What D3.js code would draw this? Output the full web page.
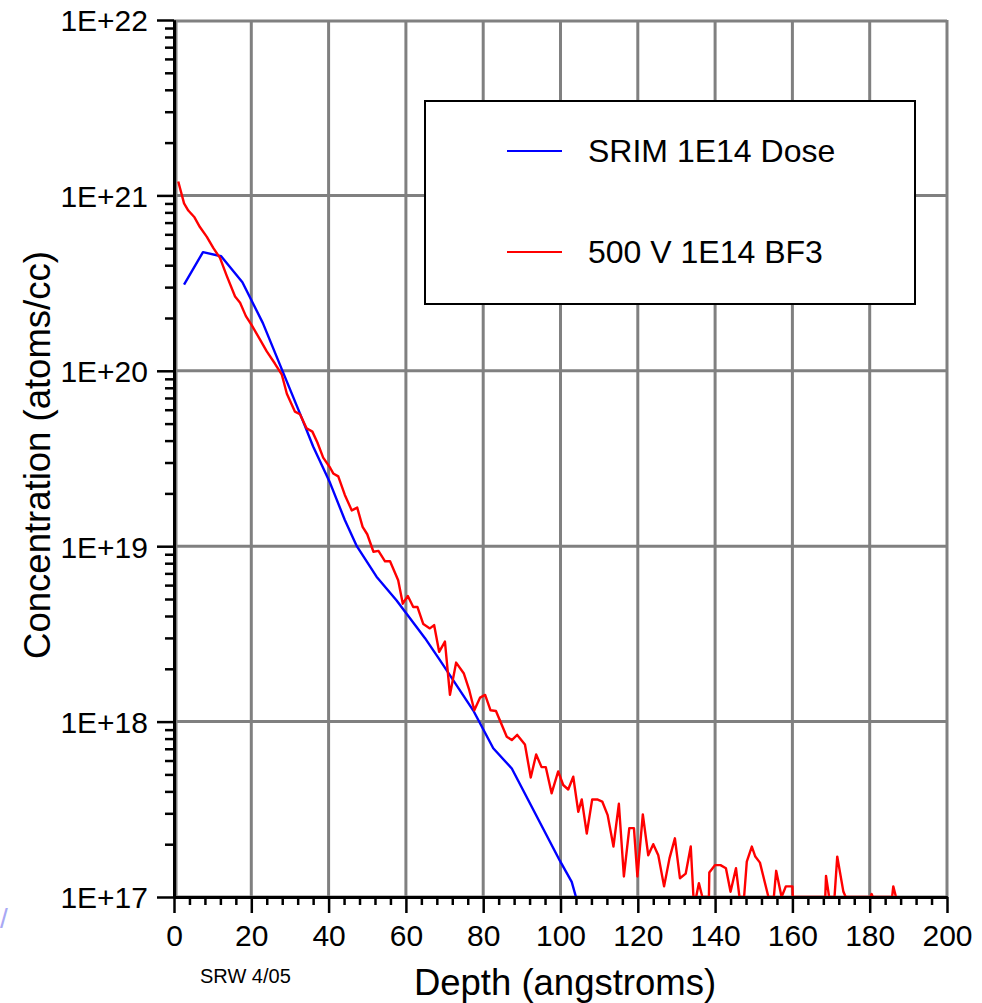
<!DOCTYPE html>
<html>
<head>
<meta charset="utf-8">
<script src="https://cdn.jsdelivr.net/npm/d3@7"></script>
<style>
  body { margin: 0; background: #fff; }
  svg { display: block; font-family: "Liberation Sans", Arial, sans-serif; }
</style>
</head>
<body>
<svg id="vis" width="982" height="1003"></svg>
<script>
// SRIM simulated profile (depth in angstroms, atoms/cc)
var srimDepth = [2.6, 7.5, 12.2, 17.7, 23.0, 28.3, 32.6, 36.0, 40.4, 44.2, 47.3, 52.4,
    57.6, 64.9, 68.8, 77.4, 82.6, 87.4, 99.9, 102.9, 104.0];
var srimConc = [3.1e20, 4.75e20, 4.5e20, 3.2e20, 1.87e20, 9.7e19, 5.7e19, 3.7e19, 2.29e19,
    1.41e19, 1.0e19, 6.7e18, 4.9e18, 3.0e18, 2.24e18, 1.16e18, 7.05e17, 5.4e17, 1.6e17,
    1.22e17, 1.0e17];

// measured 500 V BF3 profile
var bf3Depth = [1.1, 2.6, 3.7, 5.3, 6.7, 8.5, 10.2, 11.9, 13.6, 15.8, 17.1, 18.6, 20.1, 22.3,
    24.0, 26.1, 27.9, 29.2, 31.3, 32.6, 34.3, 35.8, 37.1, 38.6, 40.4, 41.2, 42.5, 44.2, 46.0,
    47.4, 48.8, 50.0, 51.6, 52.9, 54.6, 55.9, 58.0, 59.2, 60.5, 61.9, 63.0, 64.5, 66.2, 67.3,
    68.6, 70.1, 71.4, 73.0, 75.0, 76.4, 77.7, 79.2, 80.5, 81.9, 83.3, 86.1, 87.4, 88.8, 90.8,
    92.3, 93.7, 95.1, 96.2, 97.7, 99.4, 100.7, 102.0, 103.3, 104.6, 105.5, 106.8, 108.2, 109.5,
    110.8, 112.2, 113.7, 115.1, 116.4, 117.8, 119.0, 119.9, 121.3, 122.7, 124.0, 125.3, 126.8,
    128.2, 129.6, 130.9, 132.4, 133.7, 134.4, 135.1, 135.8, 136.7, 138.4, 138.5, 140.0, 141.4,
    142.8, 144.0, 145.4, 146.3, 147.5, 148.2, 149.5, 150.4, 151.6, 153.8, 155.2, 155.8, 157.2,
    158.3, 160.0, 160.1, 168.5, 168.7, 169.5, 170.9, 171.6, 173.2, 173.8, 180.2, 180.5, 180.8,
    185.8, 186.1, 186.8];
var bf3Conc = [1.2e21, 9.0e20, 8.2e20, 7.5e20, 6.6e20, 5.8e20, 5.0e20, 4.4e20, 3.5e20, 2.65e20,
    2.44e20, 2.05e20, 1.82e20, 1.5e20, 1.29e20, 1.1e20, 9.5e19, 7.4e19, 5.85e19, 5.65e19, 4.7e19,
    4.5e19, 3.9e19, 3.2e19, 2.8e19, 2.6e19, 2.5e19, 1.96e19, 1.6e19, 1.66e19, 1.29e19, 1.17e19,
    9.3e18, 9.4e18, 8.2e18, 8.2e18, 6.4e18, 4.7e18, 5.2e18, 4.5e18, 4.5e18, 3.6e18, 3.4e18,
    3.55e18, 2.5e18, 2.86e18, 1.42e18, 2.17e18, 1.88e18, 1.51e18, 1.16e18, 1.37e18, 1.42e18,
    1.16e18, 1.15e18, 8.2e17, 7.85e17, 8.4e17, 7.4e17, 4.8e17, 6.5e17, 5.5e17, 5.5e17, 3.9e17,
    5.2e17, 4.35e17, 4.1e17, 4.85e17, 3.06e17, 3.6e17, 2.3e17, 3.6e17, 3.6e17, 3.5e17, 2.93e17,
    1.94e17, 3.4e17, 1.31e17, 2.47e17, 2.47e17, 1.31e17, 2.96e17, 1.73e17, 2.0e17, 1.73e17,
    1.15e17, 1.66e17, 2.16e17, 1.28e17, 1.36e17, 1.94e17, 1e17, 1e17, 1.2e17, 1e17, 1e17,
    1.38e17, 1.52e17, 1.52e17, 1.46e17, 1.07e17, 1.46e17, 1e17, 1e17, 1.59e17, 1.94e17, 1.7e17,
    1.57e17, 1e17, 1e17, 1.41e17, 1e17, 1.15e17, 1.15e17, 1e17, 1e17, 1.32e17, 1e17, 1e17,
    1.7e17, 1.07e17, 1e17, 1e17, 1.04e17, 1e17, 1e17, 1.15e17, 1e17];

var xTicks = [0, 20, 40, 60, 80, 100, 120, 140, 160, 180, 200];
var yTicks = [1e17, 1e18, 1e19, 1e20, 1e21, 1e22];
var yTickLabels = ['1E+17', '1E+18', '1E+19', '1E+20', '1E+21', '1E+22'];
var seriesNames = ['SRIM 1E14 Dose', '500 V 1E14 BF3'];
var seriesColors = ['#0000ff', '#ff0000'];

// plot box (window.top is read-only, so no bare "top")
var plotLeft = 174, plotRight = 947, plotTop = 20, plotBottom = 897;
var svg = d3.select('#vis');

var x = d3.scaleLinear().domain([0, 200]).range([plotLeft, plotRight]);
var y = d3.scaleLog().domain([1e17, 1e22]).range([plotBottom, plotTop]);

// minor ticks: every 4 angstroms, 2..9 per decade
var xMinor = d3.range(0, 201, 4).filter(function (d) { return d % 20 !== 0; });
var yMinor = [];
yTicks.slice(0, -1).forEach(function (d) {
    for (var k = 2; k <= 9; k++) yMinor.push(d * k);
});

// grid
var grid = svg.append('g').attr('stroke', '#808080').attr('stroke-width', 3);
grid.selectAll('line.gx').data(xTicks).enter().append('line')
    .attr('x1', function (d) { return x(d) + (d === 0 ? 2 : 0); })
    .attr('x2', function (d) { return x(d) + (d === 0 ? 2 : 0); })
    .attr('y1', plotTop).attr('y2', plotBottom);
grid.selectAll('line.gy').data(yTicks).enter().append('line')
    .attr('x1', plotLeft).attr('x2', plotRight)
    .attr('y1', function (d) { return y(d) + (d === 1e22 ? 1 : 0); })
    .attr('y2', function (d) { return y(d) + (d === 1e22 ? 1 : 0); });

// data lines
var series = [
    { depth: srimDepth, conc: srimConc },
    { depth: bf3Depth, conc: bf3Conc }
];
var line = d3.line()
    .x(function (d) { return x(d[0]); })
    .y(function (d) { return y(d[1]); });
series.forEach(function (s, i) {
    svg.append('path')
        .datum(d3.zip(s.depth, s.conc))
        .attr('d', line)
        .attr('fill', 'none')
        .attr('stroke', seriesColors[i])
        .attr('stroke-width', 2.4)
        .attr('stroke-linejoin', 'round');
});

// axes
function styleAxis(g) {
    g.selectAll('.domain').attr('stroke', '#000').attr('stroke-width', 3);
    g.selectAll('.tick line').attr('stroke', '#000').attr('stroke-width', 2.5);
    g.selectAll('text').attr('fill', '#000').attr('font-size', 30)
        .attr('font-family', '"Liberation Sans", Arial, sans-serif');
}

svg.append('g').attr('transform', 'translate(' + plotLeft + ',0)')
    .call(d3.axisLeft(y).tickValues(yMinor).tickSize(9).tickSizeOuter(0).tickFormat(''))
    .call(styleAxis);
svg.append('g').attr('transform', 'translate(' + plotLeft + ',0)')
    .call(d3.axisLeft(y).tickValues(yTicks).tickSize(17).tickSizeOuter(0).tickPadding(9)
        .tickFormat(function (d, i) { return yTickLabels[i]; }))
    .call(styleAxis)
    .selectAll('text').attr('dy', '0.36em');

svg.append('g').attr('transform', 'translate(0,' + plotBottom + ')')
    .call(d3.axisBottom(x).tickValues(xMinor).tickSize(8).tickSizeOuter(0).tickFormat(''))
    .call(styleAxis);
svg.append('g').attr('transform', 'translate(0,' + plotBottom + ')')
    .call(d3.axisBottom(x).tickValues(xTicks).tickSize(16).tickSizeOuter(0).tickPadding(12))
    .call(styleAxis);

// axis titles
svg.append('text')
    .attr('transform', 'translate(50,455) rotate(-90)')
    .attr('text-anchor', 'middle')
    .attr('font-size', 36.5)
    .text('Concentration (atoms/cc)');
svg.append('text')
    .attr('x', 565).attr('y', 995)
    .attr('text-anchor', 'middle')
    .attr('font-size', 36.5)
    .text('Depth (angstroms)');
svg.append('text')
    .attr('x', 200).attr('y', 983)
    .attr('font-size', 20)
    .text('SRW 4/05');
svg.append('text')
    .attr('x', 0).attr('y', 928)
    .attr('font-size', 28)
    .attr('fill', '#a8a8f4')
    .text('/');

// legend
var legend = svg.append('g');
legend.append('rect')
    .attr('x', 425).attr('y', 101).attr('width', 490).attr('height', 203)
    .attr('fill', '#fff').attr('stroke', '#000').attr('stroke-width', 2);
var legendY = [151, 252];
seriesNames.forEach(function (name, i) {
    legend.append('line')
        .attr('x1', 507).attr('x2', 562)
        .attr('y1', legendY[i]).attr('y2', legendY[i])
        .attr('stroke', seriesColors[i]).attr('stroke-width', 2.2);
    legend.append('text')
        .attr('x', 588).attr('y', legendY[i] + 11)
        .attr('font-size', 32)
        .text(name);
});
</script>
</body>
</html>
